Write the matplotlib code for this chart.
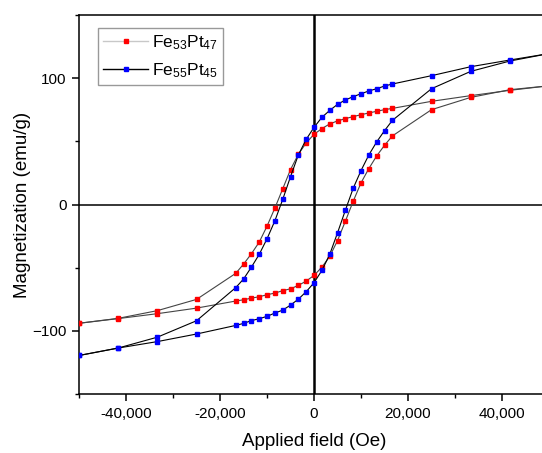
import matplotlib
matplotlib.use("Agg")
import matplotlib.pyplot as plt
from matplotlib.ticker import FuncFormatter, MultipleLocator
from matplotlib.lines import Line2D

plt.rcParams['font.family'] = ['Liberation Sans', 'DejaVu Sans']
plt.rcParams['mathtext.fontset'] = 'custom'
plt.rcParams['mathtext.rm'] = 'Liberation Sans'
plt.rcParams['mathtext.it'] = 'Liberation Sans:italic'
plt.rcParams['mathtext.bf'] = 'Liberation Sans:bold'

# Field sweep: +50 kOe down to -50 kOe (descending), then back up (ascending)
field_desc = [50000, 41667, 33333, 25000, 16667, 15000, 13333, 11667, 10000,
              8333, 6667, 5000, 3333, 1667, 0, -1667, -3333, -5000, -6667,
              -8333, -10000, -11667, -13333, -15000, -16667, -25000, -33333,
              -41667, -50000]
field_asc = field_desc[::-1]

# Fe53Pt47 magnetization (emu/g)
fe53_desc = [94.0, 90.4, 86.2, 81.7, 76.1, 75.1, 73.8, 72.5, 71.1, 69.6, 68.0,
             66.2, 63.8, 60.1, 55.6, 48.8, 39.8, 27.7, 12.4, -2.8, -17.1,
             -29.8, -39.0, -47.2, -54.5, -75.1, -84.0, -90.1, -94.0]
fe53_asc = [-94.0, -90.3, -86.4, -82.0, -76.4, -75.4, -74.1, -73.0, -71.4,
            -70.1, -68.2, -66.7, -64.0, -60.6, -56.1, -49.6, -41.1, -28.5,
            -13.2, 2.6, 17.2, 28.5, 38.5, 46.9, 54.3, 75.1, 84.8, 90.9, 94.0]

# Fe55Pt45 magnetization (emu/g)
fe55_desc = [119.5, 114.4, 109.1, 102.0, 95.4, 93.8, 91.7, 89.9, 87.7, 85.4,
             82.8, 79.3, 74.5, 69.0, 61.1, 51.6, 39.3, 22.1, 4.0, -12.9, -27.1,
             -39.5, -49.6, -59.0, -65.8, -92.0, -105.0, -113.6, -119.5]
fe55_asc = [-119.5, -113.6, -108.5, -102.5, -95.7, -94.1, -91.9, -90.4, -88.5,
            -85.9, -83.6, -79.6, -74.9, -69.0, -61.9, -52.2, -39.5, -22.4,
            -4.5, 12.9, 26.9, 39.3, 49.6, 58.5, 66.6, 91.7, 105.4, 113.6, 119.5]

x_ticks = [-40000, -20000, 0, 20000, 40000]
y_ticks = [-100, 0, 100]

fig = plt.figure(figsize=(5.42, 4.53), dpi=100)
ax = fig.add_axes([0.1458, 0.1302, 0.8672, 0.8366])

ax.axhline(0, color='black', lw=1.1, zorder=1)
ax.axvline(0, color='black', lw=1.8, zorder=1)

ms = 2.4
for x, y in ((field_desc, fe53_desc), (field_asc, fe53_asc)):
    ax.plot(x, y, color='#444444', lw=0.8, marker='s', ms=ms,
            mfc='red', mec='red', zorder=3)
for x, y in ((field_desc, fe55_desc), (field_asc, fe55_asc)):
    ax.plot(x, y, color='black', lw=0.8, marker='s', ms=ms,
            mfc='blue', mec='blue', zorder=3)

ax.set_xlim(-50000, 50000)
ax.set_ylim(-150, 150)
ax.set_xticks(x_ticks)
ax.set_yticks(y_ticks)
ax.xaxis.set_minor_locator(MultipleLocator(10000))
ax.yaxis.set_minor_locator(MultipleLocator(50))
ax.xaxis.set_major_formatter(FuncFormatter(lambda v, p: f"{int(v):,}"))

ax.tick_params(axis='both', which='major', direction='out', length=5,
               width=1.1, labelsize=11, top=False, right=False, pad=4)
ax.tick_params(axis='both', which='minor', direction='out', length=3,
               width=1.0, top=False, right=False)
for s in ax.spines.values():
    s.set_linewidth(1.1)

ax.set_xlabel('Applied field (Oe)', fontsize=13.5, labelpad=9)
ax.set_ylabel('Magnetization (emu/g)', fontsize=13.5, labelpad=1)

handles = [
    Line2D([], [], color='#c8c8c8', lw=1.0, marker='s', ms=ms,
           mfc='red', mec='red'),
    Line2D([], [], color='black', lw=1.0, marker='s', ms=ms,
           mfc='blue', mec='blue'),
]
leg = ax.legend(handles, [r'Fe$_{53}$Pt$_{47}$', r'Fe$_{55}$Pt$_{45}$'],
                loc='upper left', bbox_to_anchor=(0.04, 0.965),
                fontsize=12.5, frameon=True, fancybox=False,
                handlelength=2.6, handletextpad=0.2, borderpad=0.3,
                labelspacing=0.5, borderaxespad=0)
leg.get_frame().set_edgecolor('#808080')
leg.get_frame().set_linewidth(1.0)

fig.savefig('out.png', dpi=100)
